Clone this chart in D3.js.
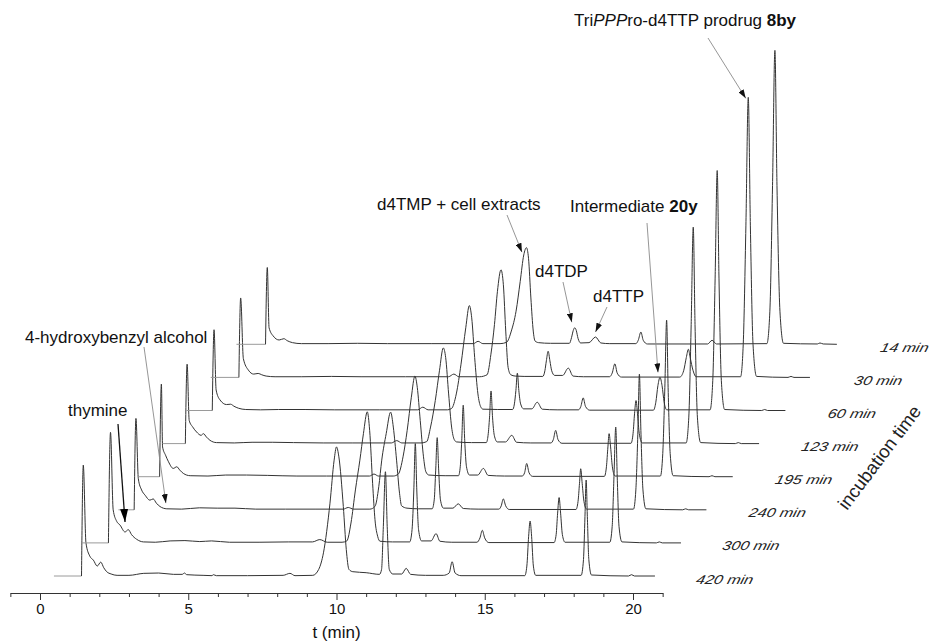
<!DOCTYPE html>
<html><head><meta charset="utf-8">
<script src="https://cdn.jsdelivr.net/npm/d3@7"></script>
<style>body{margin:0;background:#fff} svg{display:block}</style>
</head><body>
<svg id="chart" width="930" height="641"></svg>
<script>
// ---------------- data (retention time in min, signal in arbitrary units) -------------
const traceLabels = ["420 min","300 min","240 min","195 min","123 min","60 min","30 min","14 min"];

const trace420 = [[0.47,0],[1.40,0],[1.46,33.5],[1.55,10],[1.68,6],[1.80,4.8],[1.93,3],[2.05,4.2],[2.15,2.5],[2.25,1.3],[2.4,0.6],[2.6,0.2],[3.0,0.2],[3.5,0.8],[4.0,0.9],[4.5,0.5],[4.8,0.5],[4.87,0.9],[4.95,0.4],[5.5,0.2],[5.8,0.1],[5.85,0.4],[5.95,0.1],[7.0,0.1],[8.2,0.2],[8.43,0.8],[8.6,0.1],[9.2,0.2],[9.4,2],[9.56,7],[9.78,22],[9.92,35],[10.0,39],[10.08,36],[10.23,21],[10.33,8],[10.42,2],[10.55,1.3],[11.0,1],[11.45,0.5],[11.52,2],[11.58,15],[11.65,31.5],[11.71,15],[11.78,2],[11.9,0.6],[12.2,0.6],[12.35,2.3],[12.5,0.5],[13.0,0.2],[13.6,0.2],[13.8,0.9],[13.9,4.3],[14.0,0.9],[14.2,0.1],[16.35,0.1],[16.42,3],[16.48,12],[16.53,16.6],[16.58,12],[16.64,3],[16.72,0.2],[18.25,0.2],[18.33,5],[18.38,18],[18.42,29],[18.46,18],[18.51,5],[18.6,0.3],[19.85,0],[19.95,0.4],[20.05,0],[20.74,0]];

const trace300 = [[0.52,0],[1.42,0],[1.49,33.4],[1.58,10],[1.70,6.5],[1.81,5.4],[1.98,3.3],[2.09,4],[2.2,2.5],[2.37,1.1],[2.6,0.3],[3.0,0.2],[3.5,0.6],[4.0,0.7],[4.5,0.4],[4.9,0.6],[5.5,0.2],[6.5,0.2],[7.5,0.3],[8.3,0.3],[8.55,1],[8.8,0.2],[9.3,0.2],[9.46,0.6],[9.6,6],[9.75,16],[9.9,25],[10.02,33],[10.15,39.6],[10.23,34],[10.33,18],[10.41,7],[10.5,2],[10.58,0.5],[11.0,0.3],[11.58,0.3],[11.66,4],[11.72,16],[11.77,30],[11.82,16],[11.88,4],[11.98,0.6],[12.3,0.6],[12.47,2.8],[12.6,0.5],[13.0,0.2],[13.85,0.2],[13.95,1.5],[14.03,3.8],[14.11,1.5],[14.25,0.1],[16.45,0.1],[16.52,2.5],[16.57,9],[16.62,13.7],[16.67,9],[16.73,2.5],[16.82,0.2],[18.33,0.2],[18.41,5],[18.47,20],[18.53,35],[18.58,20],[18.64,5],[18.74,0.3],[19.9,0],[20.0,0.3],[20.1,0],[20.73,0]];

const trace240 = [[0.87,0],[1.40,0],[1.46,27.6],[1.54,9.4],[1.65,6],[1.77,4.4],[1.93,2.9],[2.04,3.3],[2.15,2],[2.27,1],[2.5,0.3],[3.0,0.2],[3.6,0.6],[4.2,0.5],[4.8,0.5],[5.5,0.2],[6.5,0.2],[7.5,0.2],[8.45,0.2],[8.62,0.7],[8.8,0.2],[9.35,0.2],[9.52,1],[9.65,7],[9.75,15],[9.9,23],[10.05,29.5],[10.14,25],[10.25,15],[10.35,5],[10.42,1.2],[10.6,0.5],[11.0,0.3],[11.45,0.3],[11.52,3],[11.57,12],[11.62,21.8],[11.67,12],[11.73,3],[11.83,0.5],[12.15,0.5],[12.33,1.8],[12.5,0.4],[13.0,0.2],[13.7,0.2],[13.78,1.2],[13.85,3.3],[13.93,1.2],[14.05,0.1],[16.3,0.1],[16.37,2.5],[16.42,8],[16.46,12.4],[16.51,8],[16.57,2.5],[16.66,0.2],[18.24,0.2],[18.32,6],[18.39,24],[18.44,41],[18.49,24],[18.56,6],[18.66,0.3],[19.9,0],[20.0,0.3],[20.1,0],[20.7,0]];

const trace195 = [[0.65,0],[1.37,0],[1.43,28],[1.47,9],[1.57,6.5],[1.67,4.5],[1.83,2.5],[1.95,3],[2.05,2],[2.17,1],[2.4,0.3],[3.0,0.2],[3.6,0.5],[4.3,0.5],[5.0,0.4],[6.0,0.2],[7.0,0.2],[8.45,0.2],[8.6,0.8],[8.75,0.2],[9.25,0.2],[9.42,0.8],[9.58,6],[9.72,14],[9.86,24],[9.98,30.4],[10.06,27],[10.16,17],[10.27,6],[10.35,1.5],[10.45,0.5],[11.0,0.3],[11.45,0.3],[11.51,3],[11.56,11],[11.61,21.6],[11.66,11],[11.72,3],[11.82,0.5],[12.1,0.5],[12.29,2.5],[12.45,0.4],[13.0,0.2],[13.6,0.2],[13.68,1.2],[13.75,4],[13.83,1.2],[13.95,0.1],[16.37,0.1],[16.44,3],[16.49,9],[16.53,13],[16.58,9],[16.64,3],[16.73,0.2],[18.26,0.2],[18.34,7],[18.41,27],[18.47,47.3],[18.52,27],[18.59,7],[18.69,0.3],[19.9,0],[20.0,0.3],[20.1,0],[20.7,0]];

const trace123 = [[0.6,0],[1.35,0],[1.41,24],[1.48,7],[1.6,5],[1.73,3.5],[1.88,2.5],[1.96,3],[2.06,2],[2.18,1],[2.4,0.3],[3.0,0.2],[3.6,0.4],[4.3,0.4],[5.0,0.3],[6.0,0.2],[7.0,0.2],[8.3,0.2],[8.48,0.9],[8.65,0.2],[9.3,0.2],[9.49,0.6],[9.62,5],[9.78,13],[9.92,22],[10.05,28.9],[10.13,26],[10.23,15],[10.33,5],[10.42,1.2],[10.5,0.5],[11.0,0.3],[11.5,0.3],[11.56,2.5],[11.61,8],[11.66,15.9],[11.71,8],[11.77,2.5],[11.87,0.5],[12.15,0.5],[12.36,2.5],[12.52,0.4],[13.0,0.2],[13.68,0.2],[13.76,1.2],[13.84,4],[13.92,1.2],[14.05,0.1],[16.38,0.1],[16.45,3],[16.5,9],[16.55,13],[16.6,9],[16.66,3],[16.76,0.2],[18.24,0.2],[18.33,8],[18.41,36],[18.48,65.4],[18.54,36],[18.62,8],[18.73,0.3],[19.9,0],[20.0,0.3],[20.1,0],[20.7,0]];

const trace60 = [[0.5,0],[1.37,0],[1.43,24.4],[1.5,6.2],[1.63,3.2],[1.85,1.8],[1.99,1.9],[2.1,1.3],[2.25,0.7],[2.5,0.3],[3.0,0.2],[3.6,0.3],[4.5,0.3],[5.5,0.2],[7.0,0.2],[8.3,0.2],[8.47,1],[8.65,0.2],[9.3,0.2],[9.44,0.6],[9.6,5],[9.76,14],[9.92,25],[10.04,31.7],[10.12,28],[10.22,16],[10.33,5],[10.42,1.2],[10.5,0.4],[11.0,0.3],[11.5,0.3],[11.56,2],[11.61,6],[11.66,11.3],[11.71,6],[11.77,2],[11.87,0.5],[12.15,0.5],[12.33,2.5],[12.5,0.4],[13.0,0.2],[13.72,0.2],[13.8,1.2],[13.88,3.8],[13.96,1.2],[14.1,0.1],[16.25,0.1],[16.33,2.5],[16.4,7.5],[16.47,10],[16.54,7.5],[16.61,2.5],[16.7,0.2],[18.16,0.2],[18.25,9],[18.33,40],[18.4,72.5],[18.46,40],[18.54,9],[18.65,0.3],[19.9,0],[20.0,0.3],[20.1,0],[20.7,0]];

const trace30 = [[0.43,0],[1.38,0],[1.44,24],[1.53,5.7],[1.7,2.2],[1.88,1],[2.03,1.2],[2.15,0.8],[2.3,0.4],[2.6,0.2],[3.5,0.2],[4.5,0.3],[5.5,0.2],[7.0,0.2],[8.45,0.2],[8.63,1],[8.8,0.2],[9.5,0.2],[9.75,0.8],[9.88,7],[10.0,16],[10.1,26],[10.22,32.5],[10.3,28],[10.38,14],[10.46,3],[10.55,0.8],[10.7,0.4],[11.0,0.3],[11.63,0.3],[11.7,2],[11.75,5],[11.81,7.9],[11.87,5],[11.93,2],[12.03,0.6],[12.3,0.6],[12.49,2.8],[12.65,0.4],[13.0,0.2],[13.88,0.2],[13.97,1.3],[14.06,4.1],[14.14,1.3],[14.28,0.1],[16.25,0.1],[16.38,2],[16.47,6],[16.54,8.5],[16.6,6],[16.7,2],[16.8,0.2],[18.3,0.2],[18.39,10],[18.48,46],[18.56,84.6],[18.63,46],[18.72,10],[18.84,0.3],[19.9,0],[20.0,0.3],[20.1,0],[20.64,0]];

const trace14 = [[0.41,0],[1.39,0],[1.45,23.2],[1.51,5],[1.65,2.5],[1.85,1.3],[2.01,1.7],[2.12,1.1],[2.3,0.5],[2.6,0.2],[3.5,0.2],[4.5,0.3],[5.5,0.2],[7.0,0.2],[8.4,0.2],[8.56,0.9],[8.72,0.2],[9.3,0.2],[9.52,0.6],[9.68,4],[9.84,10],[9.98,19],[10.1,27],[10.19,29.2],[10.26,26],[10.34,14],[10.42,4],[10.48,1],[10.6,0.5],[11.0,0.3],[11.64,0.3],[11.71,2],[11.77,4.2],[11.82,5],[11.87,4.2],[11.93,1.8],[12.02,0.4],[12.3,0.5],[12.52,2.2],[12.7,0.4],[13.0,0.2],[13.88,0.2],[13.96,1.2],[14.05,3.7],[14.13,1.2],[14.27,0.1],[16.3,0.1],[16.45,1.2],[16.6,0.1],[18.3,0.2],[18.4,10],[18.49,48],[18.57,88.8],[18.64,48],[18.74,10],[18.86,0.3],[20.0,0.1],[20.09,0.4],[20.2,0.1],[20.66,0]];

const traces = [trace420, trace300, trace240, trace195, trace123, trace60, trace30, trace14];

const tickValues = d3.range(-1, 22);
const labelledTicks = [0, 5, 10, 15, 20];
const xTitle = "t (min)";
const zTitle = "incubation time";

// ---------------- layout -------------------------------------------------------------
const xShift = 0.888;   // waterfall shift of each successive trace (min)
const yShift = 10;      // waterfall shift of each successive trace (signal units)
const FONT = "'Liberation Sans', Arial, Helvetica, sans-serif";

const svg = d3.select("#chart");
const x = d3.scaleLinear().domain([-1, 21]).range([10.35, 662.65]);
const y = d3.scaleLinear().domain([0, 100]).range([576, 245]);

const px = (k, t) => x(t + k * xShift);
const py = (k, v) => y(v + k * yShift);

// defs: arrow markers
const defs = svg.append("defs");
defs.append("marker").attr("id", "arrS").attr("markerUnits", "userSpaceOnUse")
  .attr("markerWidth", 9).attr("markerHeight", 6).attr("refX", 9).attr("refY", 3)
  .attr("orient", "auto").append("path").attr("d", "M0,0 L9,3 L0,6 Z").attr("fill", "#111");
defs.append("marker").attr("id", "arrB").attr("markerUnits", "userSpaceOnUse")
  .attr("markerWidth", 13).attr("markerHeight", 8).attr("refX", 13).attr("refY", 4)
  .attr("orient", "auto").append("path").attr("d", "M0,0 L13,4 L0,8 Z").attr("fill", "#000");

// ---------------- traces --------------------------------------------------------------
const line = d3.line().curve(d3.curveMonotoneX);
const gTr = svg.append("g").attr("fill", "none").attr("stroke-linejoin", "round");
traces.forEach((data, k) => {
  const pts = data.map(d => [px(k, d[0]), py(k, d[1])]);
  gTr.append("path").attr("d", line(pts.slice(0, 2))).attr("stroke", "#9a9a9a").attr("stroke-width", 1);
  gTr.append("path").attr("d", line(pts.slice(1))).attr("stroke", "#333").attr("stroke-width", 1);
});

// trace labels
traceLabels.forEach((lab, k) => {
  const lx = px(k, 22.1), ly = py(k, 0) + 7.5;
  svg.append("text").attr("transform", `translate(${lx},${ly}) skewX(-14) scale(1,0.8)`)
    .attr("font-family", FONT).attr("font-size", 16).attr("font-style", "italic")
    .attr("fill", "#222").text(lab);
});

// incubation time axis title
svg.append("text").attr("transform", "translate(847,511) rotate(-53)")
  .attr("font-family", FONT).attr("font-size", 18.5).attr("fill", "#222").text(zTitle);

// ---------------- x axis ---------------------------------------------------------------
const axisY = 593;
const gAx = svg.append("g").attr("transform", `translate(0,${axisY})`)
  .call(d3.axisBottom(x).tickValues(tickValues).tickSizeOuter(0)
    .tickFormat(d => labelledTicks.includes(d) ? d : ""));
gAx.select(".domain").attr("stroke", "#333");
gAx.selectAll(".tick line").attr("stroke", "#333")
  .attr("y2", d => labelledTicks.includes(d) ? 7 : 4);
gAx.selectAll(".tick text").attr("font-family", FONT).attr("font-size", 15)
  .attr("fill", "#111").attr("y", 10).attr("dy", "0.71em");
svg.append("text").attr("x", x(10)).attr("y", 638).attr("text-anchor", "middle")
  .attr("font-family", FONT).attr("font-size", 17).attr("fill", "#111").text(xTitle);

// ---------------- annotations ----------------------------------------------------------
const annotations = [
  {parts: [["Tri", ""], ["PPP", "i"], ["ro-d4TTP prodrug ", ""], ["8by", "b"]], tx: 574, ty: 26,
   from: [708, 38], k: 6, t: 18.56, v: 84.6, dx: -2.5, dy: 1, big: false},
  {parts: [["Intermediate ", ""], ["20y", "b"]], tx: 570, ty: 212,
   from: [647, 223], k: 5, t: 16.47, v: 10, dx: -2, dy: -5, big: false},
  {parts: [["d4TMP + cell extracts", ""]], tx: 377, ty: 210,
   from: [507, 215], k: 7, t: 10.19, v: 29.2, dx: -4.5, dy: 4.5, big: false},
  {parts: [["d4TDP", ""]], tx: 535, ty: 277,
   from: [563, 282], k: 7, t: 11.82, v: 5, dx: -3, dy: -5.5, big: false},
  {parts: [["d4TTP", ""]], tx: 593, ty: 302,
   from: [607, 307], k: 7, t: 12.52, v: 2.2, dx: 0, dy: -5, big: false},
  {parts: [["4-hydroxybenzyl alcohol", ""]], tx: 25, ty: 343,
   from: [144, 347], k: 2, t: 2.47, v: 0.5, dx: 0, dy: -5, big: false},
  {parts: [["thymine", ""]], tx: 68, ty: 416,
   from: [118, 424], k: 1, t: 1.98, v: 3.3, dx: 0, dy: -10, big: true}
];
annotations.forEach(a => {
  const tip = [px(a.k, a.t) + a.dx, py(a.k, a.v) + a.dy];
  svg.append("line").attr("x1", a.from[0]).attr("y1", a.from[1]).attr("x2", tip[0]).attr("y2", tip[1])
    .attr("stroke", a.big ? "#111" : "#8a8a8a").attr("stroke-width", a.big ? 1.3 : 0.9)
    .attr("marker-end", a.big ? "url(#arrB)" : "url(#arrS)");
  const txt = svg.append("text").attr("x", a.tx).attr("y", a.ty)
    .attr("font-family", FONT).attr("font-size", 17).attr("fill", "#111");
  a.parts.forEach(([s, st]) => {
    const ts = txt.append("tspan").text(s);
    if (st === "i") ts.attr("font-style", "italic");
    if (st === "b") ts.attr("font-weight", "bold");
  });
});
</script>
</body></html>
